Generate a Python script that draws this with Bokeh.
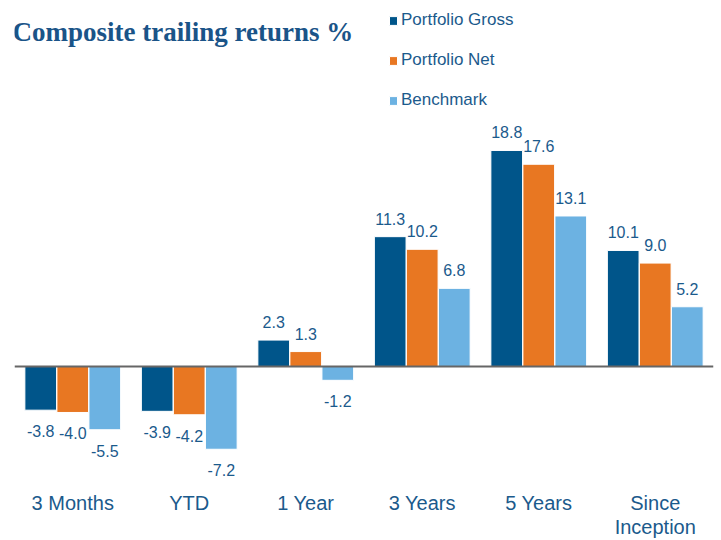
from bokeh.plotting import figure
from bokeh.models import ColumnDataSource, FactorRange, Span, Label
from bokeh.transform import dodge
from bokeh.core.properties import value
from bokeh.embed import file_html
from bokeh.resources import INLINE

categories = ["3 Months", "YTD", "1 Year", "3 Years", "5 Years", "Since Inception"]
category_labels = ["3 Months", "YTD", "1 Year", "3 Years", "5 Years", "Since\nInception"]
gross = [-3.8, -3.9, 2.3, 11.3, 18.8, 10.1]
net = [-4.0, -4.2, 1.3, 10.2, 17.6, 9.0]
bench = [-5.5, -7.2, -1.2, 6.8, 13.1, 5.2]
series_names = ["Portfolio Gross", "Portfolio Net", "Benchmark"]
colors = ["#00558A", "#E87722", "#6CB2E2"]
title_text = "Composite trailing returns %"

TXT = "#1B5A8C"
Y_MIN, Y_MAX = -15.14, 31.85
CAT_LABEL_Y = -10.9

p = figure(width=721, height=540, x_range=FactorRange(factors=categories, range_padding=0),
           y_range=(Y_MIN, Y_MAX), output_backend="svg", toolbar_location=None,
           min_border_left=14, min_border_right=8, min_border_top=0, min_border_bottom=0)
p.outline_line_color = None
p.xgrid.visible = False
p.ygrid.visible = False
p.xaxis.visible = False
p.yaxis.visible = False
p.background_fill_color = "white"

src = ColumnDataSource(dict(cat=categories, gross=gross, net=net, bench=bench,
                            gross_t=[f"{v:.1f}" for v in gross],
                            net_t=[f"{v:.1f}" for v in net],
                            bench_t=[f"{v:.1f}" for v in bench],
                            gross_o=[21 if v < 0 else -18 for v in gross],
                            net_o=[21 if v < 0 else -18 for v in net],
                            bench_o=[21 if v < 0 else -18 for v in bench],
                            label=category_labels,
                            label_y=[CAT_LABEL_Y] * len(categories)))

offsets = [-0.275, 0.0, 0.275]
for key, name, col, off in zip(["gross", "net", "bench"], series_names, colors, offsets):
    p.vbar(x=dodge("cat", off, range=p.x_range), top=key, bottom=0, width=0.272,
           source=src, fill_color=col, line_color="white", line_width=1, legend_label=name)
    p.text(x=dodge("cat", off, range=p.x_range), y=key, text=key + "_t", source=src,
           y_offset=key + "_o", text_align="center", text_baseline="middle",
           text_font=value("Liberation Sans"), text_font_size="16px", text_color=TXT)

# category labels
p.text(x="cat", y="label_y", text="label", source=src, text_align="center",
       text_baseline="top", text_font=value("Liberation Sans"), text_font_size="20px",
       text_color=TXT, text_line_height=1.1)

p.add_layout(Span(location=0, dimension="width", line_color="#666666", line_width=2))

p.add_layout(Label(x=-0.017, y=29.07, text=title_text, text_font="Liberation Serif",
                   text_font_style="bold", text_font_size="27px", text_color="#1A5488",
                   text_baseline="alphabetic"))

lg = p.legend[0]
lg.location = (374, 430)
lg.orientation = "vertical"
lg.background_fill_alpha = 0
lg.border_line_alpha = 0
lg.glyph_width = 10
lg.glyph_height = 11
lg.label_height = 20
lg.spacing = 20
lg.padding = 0
lg.margin = 0
lg.label_standoff = 3
lg.label_text_font = "Liberation Sans"
lg.label_text_font_size = "17px"
lg.label_text_color = TXT

open("out.html", "w").write(file_html(p, INLINE))
